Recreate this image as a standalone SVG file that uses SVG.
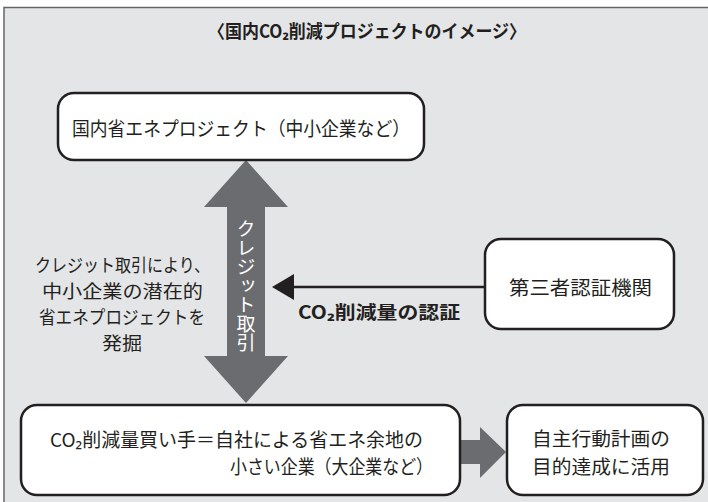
<svg xmlns="http://www.w3.org/2000/svg" width="708" height="502" viewBox="0 0 708 502">
<style>
text{font-family:"Noto Sans CJK JP","Noto Sans",sans-serif;fill:#231f20}
.box{fill:#fff;stroke:#231f20;stroke-width:2.5}
.blk{fill:#6b6c70}
.t19{font-size:19px}
.t18{font-size:18px}
.b{font-weight:bold}
</style>
<rect x="0" y="0" width="708" height="502" fill="#fff"/>
<rect x="4" y="7.5" width="712" height="510" fill="#e4e5e7" stroke="#666" stroke-width="1.5"/>
<text x="208" y="38" class="b" font-size="18" textLength="318" lengthAdjust="spacingAndGlyphs">〈国内CO₂削減プロジェクトのイメージ〉</text>
<g id="connectors">
<path class="blk" d="M246,160 L288,207 L265,207 L265,356 L288,356 L246,403 L204,356 L227,356 L227,207 L204,207 Z"/>
<text x="246" y="219" style="writing-mode:vertical-rl;fill:#fff" font-size="19" textLength="133" lengthAdjust="spacingAndGlyphs">クレジット取引</text>
<line x1="485" y1="287" x2="290" y2="287" stroke="#231f20" stroke-width="2.5"/>
<path d="M272,287 L294,274 L294,300 Z" fill="#231f20"/>
<text x="298" y="319" class="b" font-size="18" textLength="162" lengthAdjust="spacingAndGlyphs">CO₂削減量の認証</text>
<path class="blk" d="M460,440 L480,440 L480,427 L506,452 L480,478 L480,464 L460,464 Z"/>
</g>
<g id="note">
<text x="35" y="272" class="t18" textLength="175" lengthAdjust="spacingAndGlyphs">クレジット取引により、</text>
<text x="42" y="298" class="t18" textLength="161" lengthAdjust="spacingAndGlyphs">中小企業の潜在的</text>
<text x="39" y="324" class="t18" textLength="166" lengthAdjust="spacingAndGlyphs">省エネプロジェクトを</text>
<text x="102" y="350" class="t18" textLength="40" lengthAdjust="spacingAndGlyphs">発掘</text>
</g>
<g id="node-project">
<rect class="box" x="58" y="93" width="366" height="67" rx="16"/>
<text x="72" y="136" class="t19" textLength="338" lengthAdjust="spacingAndGlyphs">国内省エネプロジェクト（中小企業など）</text>
</g>
<g id="node-third">
<rect class="box" x="485" y="239" width="189" height="90" rx="16"/>
<text x="509" y="295" class="t19" textLength="143" lengthAdjust="spacingAndGlyphs">第三者認証機関</text>
</g>
<g id="node-buyer">
<rect class="box" x="21" y="405" width="439" height="90" rx="16"/>
<text x="50" y="447" class="t19" textLength="373" lengthAdjust="spacingAndGlyphs">CO₂削減量買い手＝自社による省エネ余地の</text>
<text x="230" y="474" class="t19" textLength="203" lengthAdjust="spacingAndGlyphs">小さい企業（大企業など）</text>
</g>
<g id="node-goal">
<rect class="box" x="507" y="405" width="196" height="90" rx="16"/>
<text x="532" y="446" class="t19" textLength="138" lengthAdjust="spacingAndGlyphs">自主行動計画の</text>
<text x="532" y="474" class="t19" textLength="138" lengthAdjust="spacingAndGlyphs">目的達成に活用</text>
</g>
</svg>
